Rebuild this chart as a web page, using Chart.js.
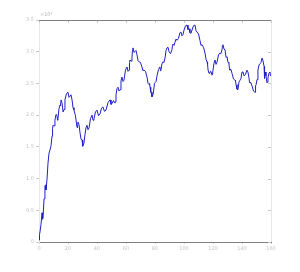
<!DOCTYPE html>
<html><head><meta charset="utf-8">
<script src="https://cdn.jsdelivr.net/npm/chart.js@4/dist/chart.umd.min.js"></script>
<style>html,body{margin:0;padding:0;background:#fff}#w{width:300px;height:272px}</style>
</head><body><div id="w"><canvas id="c" width="300" height="272"></canvas></div>
<script>
const xs = [0,0.35,0.7,1.4,2.1,2.45,2.8,3.45,4.1,4.45,4.8,5.5,6.2,6.9,7.6,8.3,9.0,9.35,9.7,10.35,11.0,11.7,12.4,12.75,13.1,13.8,14.5,14.85,15.2,15.9,16.6,17.25,17.9,18.95,20.0,20.7,21.4,22.1,22.8,23.45,24.1,25.15,26.2,26.55,26.9,27.6,28.3,29.0,29.7,30.0,30.3,31.0,31.7,32.4,33.1,33.8,34.5,35.55,36.6,37.25,37.9,38.95,40.0,41.05,42.1,43.1,44.1,45.15,46.2,47.6,49.0,49.65,50.3,51.35,52.4,52.75,53.1,53.8,54.5,55.2,55.9,56.55,57.2,57.9,58.6,59.65,60.7,61.4,62.1,62.45,62.8,63.45,64.1,64.45,64.8,65.5,66.2,66.9,67.6,68.3,69.0,70.0,71.0,71.7,72.4,73.45,74.5,75.2,75.9,76.25,76.6,76.9,77.2,77.55,77.9,78.6,79.3,79.65,80.0,80.7,81.4,82.4,83.4,83.75,84.1,84.8,85.5,86.2,86.9,87.6,88.3,89.0,89.7,90.7,91.7,92.05,92.4,93.1,93.8,94.5,95.2,96.2,97.2,97.9,98.6,99.3,100.0,101.05,102.1,102.75,103.4,103.75,104.1,104.8,105.5,106.55,107.6,108.3,109.0,110.0,111.0,111.7,112.4,113.45,114.5,115.2,115.9,116.25,116.6,117.25,117.9,118.6,119.3,119.65,120.0,120.7,121.4,122.1,122.8,123.8,124.8,125.5,126.2,126.55,126.9,127.6,128.3,129.0,129.7,130.35,131.0,131.35,131.7,132.4,133.1,134.15,135.2,135.55,135.9,136.55,137.2,137.9,138.6,139.3,140.0,140.7,141.4,142.4,143.4,144.1,144.8,145.15,145.5,146.2,146.9,147.95,149.0,149.35,149.7,150.35,151.0,151.7,152.4,153.1,153.8,154.5,155.2,155.55,155.9,156.55,157.2,157.55,157.9,158.6,159.3,159.65,160];
const ys = [0.03,0.12,0.16,0.28,0.46,0.36,0.38,0.68,0.88,0.90,0.82,0.98,1.24,1.40,1.45,1.52,1.67,1.79,1.84,1.83,1.92,2.01,2.00,1.92,1.95,2.10,2.16,2.15,2.24,2.19,2.05,2.09,2.24,2.34,2.36,2.28,2.30,2.32,2.24,2.12,2.08,1.99,1.81,1.80,1.89,1.85,1.72,1.62,1.61,1.60,1.51,1.56,1.69,1.80,1.84,1.77,1.80,1.95,2.00,1.92,1.94,2.05,2.08,1.99,2.02,2.11,2.13,2.06,2.08,2.20,2.24,2.17,2.18,2.23,2.19,2.21,2.32,2.42,2.44,2.38,2.40,2.54,2.60,2.53,2.55,2.71,2.76,2.69,2.71,2.83,2.87,2.85,2.90,3.02,3.06,2.99,3.00,3.02,2.95,2.86,2.84,2.83,2.76,2.70,2.71,2.69,2.60,2.50,2.48,2.50,2.44,2.36,2.36,2.36,2.29,2.32,2.43,2.50,2.51,2.53,2.62,2.72,2.76,2.70,2.71,2.81,2.84,2.83,2.90,3.02,3.06,3.07,3.00,2.97,3.03,3.10,3.12,3.10,3.15,3.20,3.18,3.21,3.30,3.31,3.25,3.27,3.34,3.41,3.42,3.35,3.36,3.36,3.30,3.29,3.34,3.41,3.42,3.33,3.31,3.28,3.18,3.10,3.11,3.07,2.98,2.88,2.84,2.80,2.71,2.66,2.68,2.69,2.63,2.64,2.71,2.82,2.87,2.80,2.84,2.95,2.98,2.97,3.03,3.10,3.11,3.04,3.03,2.91,2.92,2.83,2.82,2.73,2.71,2.72,2.66,2.57,2.55,2.54,2.48,2.41,2.40,2.52,2.55,2.58,2.68,2.68,2.62,2.64,2.71,2.68,2.59,2.52,2.51,2.51,2.46,2.38,2.36,2.46,2.48,2.56,2.71,2.79,2.81,2.83,2.90,2.86,2.77,2.58,2.68,2.62,2.51,2.52,2.59,2.66,2.68,2.62,2.63];
const xTicks = [0,20,40,60,80,100,120,140,160];
const yTicks = [0,0.5,1,1.5,2,2.5,3,3.5];
const expLabel = '\u00d710\u2074';

const n = Math.min(xs.length, ys.length);
const pts = xs.slice(0,n).map((x,i)=>({x:x,y:ys[i]}));
const tickFont = {family:'DejaVu Sans', size:5};
const frame = {
  id:'frame',
  afterDraw(ch){
    const c=ch.ctx, a=ch.chartArea, sx=ch.scales.x, sy=ch.scales.y;
    c.save();
    c.strokeStyle='#e6e6e6'; c.lineWidth=1;
    c.beginPath(); c.moveTo(a.right+0.5,a.top); c.lineTo(a.right+0.5,a.bottom); c.stroke();
    c.strokeStyle='#c8c8c8';
    c.beginPath();
    yTicks.forEach(v=>{const p=Math.round(sy.getPixelForValue(v))+0.5; c.moveTo(a.right-3,p); c.lineTo(a.right,p);});
    xTicks.forEach(v=>{const p=Math.round(sx.getPixelForValue(v))+0.5; c.moveTo(p,a.top); c.lineTo(p,a.top+3);});
    c.stroke();
    c.strokeStyle='#808080';
    c.beginPath(); c.moveTo(a.left,a.top+0.5); c.lineTo(a.right,a.top+0.5); c.stroke();
    c.fillStyle='#b8b8b8'; c.font='5px DejaVu Sans'; c.textBaseline='bottom'; c.textAlign='left';
    c.fillText(expLabel,a.left+1,a.top-3);
    c.restore();
  }
};
new Chart(document.getElementById('c'),{
  type:'line',
  data:{datasets:[{data:pts,borderColor:'#2020c8',borderWidth:1,pointRadius:0,tension:0,fill:false}]},
  options:{
    responsive:false,animation:false,
    layout:{padding:{top:20,right:29,left:0,bottom:0}},
    plugins:{legend:{display:false},tooltip:{enabled:false}},
    scales:{
      x:{type:'linear',min:0,max:160,
        afterBuildTicks(s){s.ticks=xTicks.map(v=>({value:v}));},
        afterFit(s){s.height=30;},
        ticks:{font:tickFont,color:'#c4c4c4',padding:2,maxRotation:0,autoSkip:false},
        grid:{drawOnChartArea:false,drawTicks:true,tickLength:2,color:'#d0d0d0'},
        border:{color:'#808080',width:1}},
      y:{type:'linear',min:0,max:3.5,
        afterBuildTicks(s){s.ticks=yTicks.map(v=>({value:v}));},
        afterFit(s){s.width=39;},
        ticks:{font:tickFont,color:'#c4c4c4',padding:2},
        grid:{drawOnChartArea:false,drawTicks:true,tickLength:3,color:'#c8c8c8'},
        border:{color:'#e8e8e8',width:1}}
    }
  },
  plugins:[frame]
});
</script></body></html>
